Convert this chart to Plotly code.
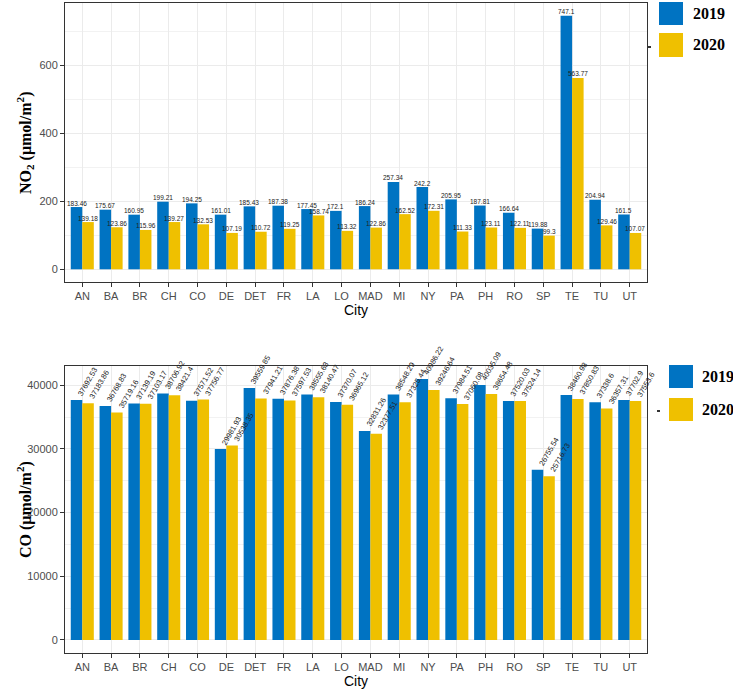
import plotly.graph_objects as go

cities = ["AN", "BA", "BR", "CH", "CO", "DE", "DET", "FR", "LA", "LO", "MAD",
          "MI", "NY", "PA", "PH", "RO", "SP", "TE", "TU", "UT"]
years = ["2019", "2020"]

no2_2019 = [183.46, 175.67, 160.95, 199.21, 194.25, 161.01, 185.43, 187.38, 177.45, 172.1,
            186.24, 257.34, 242.2, 205.95, 187.81, 166.64, 119.88, 747.1, 204.94, 161.5]
no2_2020 = [139.18, 123.86, 115.96, 139.27, 132.53, 107.19, 110.72, 119.25, 158.74, 113.32,
            122.86, 162.52, 172.31, 111.33, 123.11, 122.11, 99.3, 563.77, 129.46, 107.07]

co_2019 = [37692.53, 36768.83, 37139.19, 38706.92, 37571.52, 29981.93, 39559.85, 37876.38,
           38555.63, 37370.07, 32831.26, 38548.29, 40986.22, 37984.51, 40035.09, 37520.03,
           26755.54, 38460.98, 37338.6, 37702.9]
co_2020 = [37183.86, 35719.16, 37103.17, 38421.4, 37756.77, 30538.35, 37941.21, 37597.53,
           38140.47, 36965.12, 32377.51, 37325.44, 39246.64, 37060.08, 38654.48, 37524.14,
           25716.73, 37850.83, 36357.31, 37553.6]

no2_ticks = [0, 200, 400, 600]
co_ticks = [0, 10000, 20000, 30000, 40000]

BLUE = "#0073C2"
YELLOW = "#EFC000"
colors = [BLUE, YELLOW]

W, H = 733, 690


def px(x):
    return x / W


def py(y):
    return 1 - y / H


fig = go.Figure()

panels = [
    ("x", "y", [no2_2019, no2_2020]),
    ("x2", "y2", [co_2019, co_2020]),
]
for xa, ya, series in panels:
    for yr, vals, col in zip(years, series, colors):
        fig.add_trace(go.Bar(x=cities, y=vals, name=yr, marker=dict(color=col, line=dict(width=0)),
                             xaxis=xa, yaxis=ya, showlegend=False))

annotations = []
# value labels, top panel (horizontal)
for k, vals in enumerate([no2_2019, no2_2020]):
    off = -0.2 if k == 0 else 0.2
    for i, v in enumerate(vals):
        annotations.append(dict(x=i + off, y=v, xref="x", yref="y", text=f"{v}",
                                showarrow=False, font=dict(family="Liberation Sans, Arial", size=6.5, color="#222222"),
                                xanchor="center", yanchor="middle", yshift=4))
# value labels, bottom panel (rotated)
for k, vals in enumerate([co_2019, co_2020]):
    off = -0.2 if k == 0 else 0.2
    for i, v in enumerate(vals):
        annotations.append(dict(x=i + off, y=v, xref="x2", yref="y2", text=f"{v}",
                                showarrow=False, textangle=-60,
                                font=dict(family="Liberation Sans, Arial", size=7.5, color="#222222"),
                                xanchor="left", yanchor="bottom", xshift=-3, yshift=0))

title_font = dict(family="Liberation Serif, Times New Roman", size=16, color="black")
annotations += [
    dict(x=px(356), y=py(310), xref="paper", yref="paper", text="City", showarrow=False,
         font=dict(family="Liberation Sans, Arial", size=14, color="black"), xanchor="center", yanchor="middle"),
    dict(x=px(356), y=py(681), xref="paper", yref="paper", text="City", showarrow=False,
         font=dict(family="Liberation Sans, Arial", size=14, color="black"), xanchor="center", yanchor="middle"),
    dict(x=px(25), y=py(143), xref="paper", yref="paper",
         text="<b>NO<sub>2</sub> (μmol/m<sup>2</sup>)</b>", textangle=-90, showarrow=False,
         font=title_font, xanchor="center", yanchor="middle"),
    dict(x=px(25), y=py(510), xref="paper", yref="paper",
         text="<b>CO (μmol/m<sup>2</sup>)</b>", textangle=-90, showarrow=False,
         font=title_font, xanchor="center", yanchor="middle"),
]

shapes = []
# legends drawn manually (large keys)
legend_specs = [
    (659, [(2, 25), (33, 57)], 691, 648, 47),
    (669, [(365, 388), (398, 421)], 700, 657, 411),
]
for kx, rows, tx, dx, dy in legend_specs:
    for (y0, y1), col, yr in zip(rows, colors, years):
        shapes.append(dict(type="rect", xref="paper", yref="paper", x0=px(kx), x1=px(kx + 24),
                           y0=py(y1), y1=py(y0), fillcolor=col, line=dict(width=0)))
        annotations.append(dict(x=px(tx), y=py((y0 + y1) / 2), xref="paper", yref="paper",
                                text=f"<b>{yr}</b>", showarrow=False, xanchor="left", yanchor="middle",
                                font=dict(family="Liberation Serif, Times New Roman", size=16, color="black")))
    shapes.append(dict(type="line", xref="paper", yref="paper", x0=px(dx), x1=px(dx + 3),
                       y0=py(dy), y1=py(dy), line=dict(color="#333333", width=2)))

tickfont = dict(family="Liberation Sans, Arial", size=11, color="#4d4d4d")
common_x = dict(type="category", showline=True, linecolor="#333333", linewidth=1, mirror=True,
                ticks="outside", ticklen=4, tickcolor="#333333", tickfont=tickfont,
                showgrid=True, gridcolor="#ebebeb", gridwidth=1, range=[-0.6, 19.6],
                categoryorder="array", categoryarray=cities, zeroline=False)
common_y = dict(showline=True, linecolor="#333333", linewidth=1, mirror=True,
                ticks="outside", ticklen=4, tickcolor="#333333", tickfont=tickfont,
                showgrid=True, gridcolor="#ebebeb", gridwidth=1, zeroline=False, tickformat="d")

x_dom = [px(65), px(647)]
fig.update_layout(
    width=W, height=H,
    margin=dict(l=0, r=0, t=0, b=0),
    paper_bgcolor="white", plot_bgcolor="white",
    barmode="group", bargap=0.2, bargroupgap=0,
    xaxis=dict(common_x, domain=x_dom, anchor="y"),
    yaxis=dict(common_y, domain=[py(282), py(3)], anchor="x", range=[-37.4, 784.5],
               tickvals=no2_ticks,
               minor=dict(showgrid=True, gridcolor="#f2f2f2", dtick=100, tick0=0)),
    xaxis2=dict(common_x, domain=x_dom, anchor="y2"),
    yaxis2=dict(common_y, domain=[py(653), py(366)], anchor="x2", range=[-2049, 43035],
                tickvals=co_ticks,
                minor=dict(showgrid=True, gridcolor="#f2f2f2", dtick=5000, tick0=0)),
    annotations=annotations,
    shapes=shapes,
    showlegend=False,
)

fig.write_html("out.html", config={"displayModeBar": False},
               post_script="document.body.style.margin='0';document.body.style.overflow='hidden';")
